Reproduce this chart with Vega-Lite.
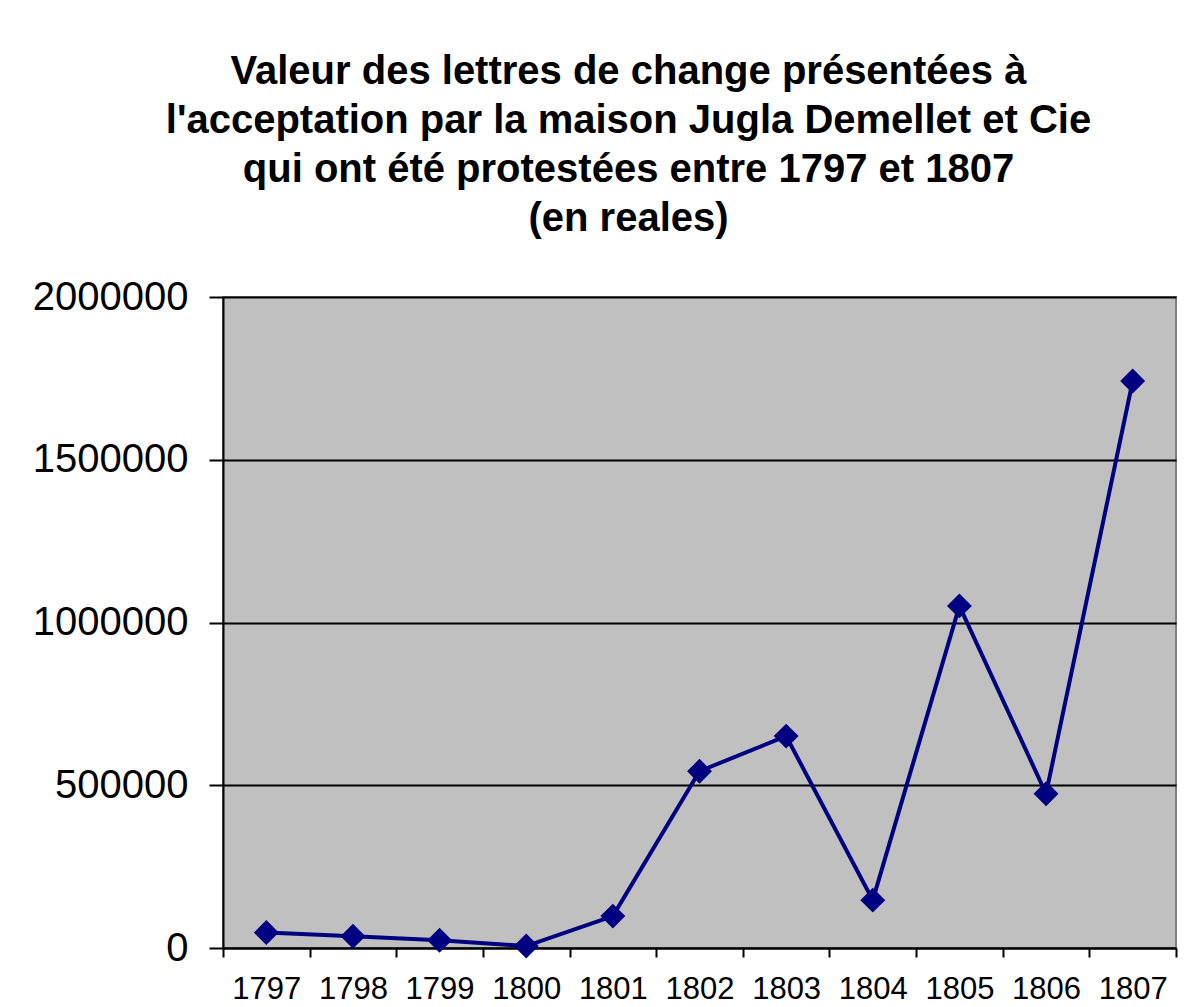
{
  "$schema": "https://vega.github.io/schema/vega-lite/v6.json",
  "width": 953,
  "height": 651,
  "autosize": {"type": "none"},
  "padding": {"left": 223, "top": 297, "right": 10, "bottom": 59},
  "background": "white",
  "title": {
    "text": ["Valeur des lettres de change présentées à", "l'acceptation par la maison Jugla Demellet et Cie", "qui ont été protestées entre 1797 et 1807", "(en reales)"],
    "font": "Liberation Sans",
    "fontSize": 40,
    "fontWeight": "bold",
    "lineHeight": 49,
    "color": "black",
    "anchor": "middle",
    "dx": -71,
    "offset": 38
  },
  "data": {
    "values": [
      {"year": "1797", "value": 47500},
      {"year": "1798", "value": 36000},
      {"year": "1799", "value": 24000},
      {"year": "1800", "value": 6000},
      {"year": "1801", "value": 98000},
      {"year": "1802", "value": 543000},
      {"year": "1803", "value": 651000},
      {"year": "1804", "value": 147000},
      {"year": "1805", "value": 1051000},
      {"year": "1806", "value": 474000},
      {"year": "1807", "value": 1742000}
    ]
  },
  "mark": {"type": "line", "color": "#000080", "strokeWidth": 4, "point": {"shape": "diamond", "size": 620, "filled": true, "color": "#000080", "opacity": 1}},
  "encoding": {
    "x": {
      "field": "year",
      "type": "ordinal",
      "bandPosition": 0.5,
      "scale": {"type": "band", "paddingInner": 0, "paddingOuter": 0},
      "axis": {
        "title": null,
        "labelAngle": 0,
        "labelFont": "Liberation Sans",
        "labelFontSize": 31,
        "labelColor": "black",
        "labelPadding": 17,
        "domainColor": "black",
        "domainWidth": 2,
        "tickColor": "black",
        "tickWidth": 2,
        "tickSize": 9,
        "tickBand": "extent",
        "grid": false
      }
    },
    "y": {
      "field": "value",
      "type": "quantitative",
      "scale": {"domain": [0, 2000000], "nice": false, "zero": true},
      "axis": {
        "title": null,
        "values": [0, 500000, 1000000, 1500000, 2000000],
        "format": "d",
        "labelFont": "Liberation Sans",
        "labelFontSize": 40,
        "labelColor": "black",
        "labelPadding": 21,
        "domainColor": "black",
        "domainWidth": 2,
        "tickColor": "black",
        "tickWidth": 2,
        "tickSize": 14,
        "grid": true,
        "gridColor": "black",
        "gridWidth": 2,
        "gridOpacity": 1
      }
    }
  },
  "config": {
    "view": {"fill": "#C0C0C0", "stroke": "#808080", "strokeWidth": 2}
  }
}
